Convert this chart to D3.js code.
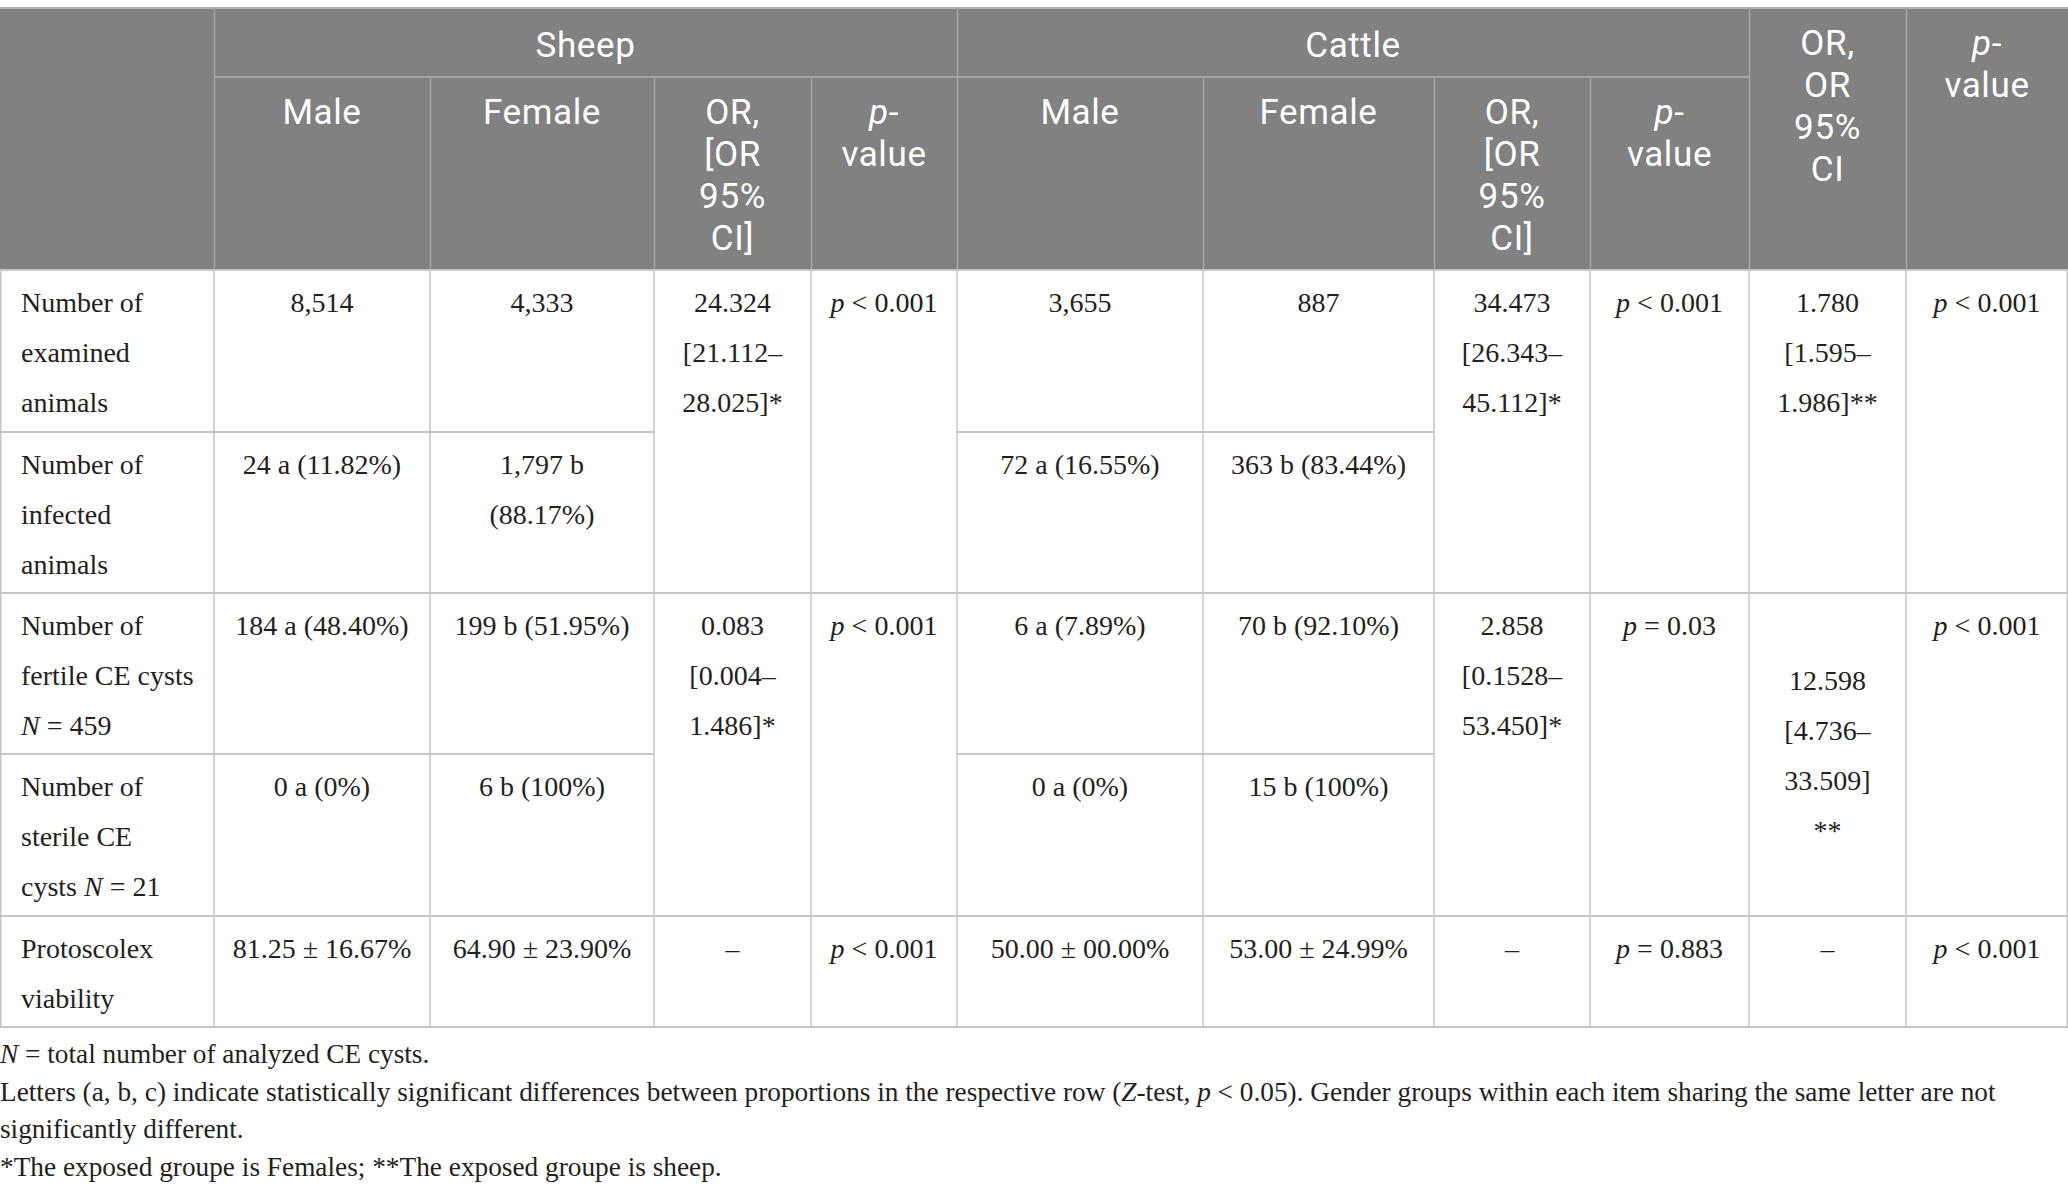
<!DOCTYPE html>
<html>
<head>
<meta charset="utf-8">
<script src="https://cdn.jsdelivr.net/npm/d3@7"></script>
<style>
  body { margin: 0; background: #fff; }
  svg { display: block; }
</style>
</head>
<body>
<div id="table"></div>
<script>
const groupLabels = ['Sheep', 'Cattle'];
const subLabels = ['Male', 'Female', 'OR,\n[OR\n95%\nCI]', 'p-\nvalue'];
const totalLabels = ['OR,\nOR\n95%\nCI', 'p-\nvalue'];

const rowLabels = [
  'Number of\nexamined\nanimals',
  'Number of\ninfected\nanimals',
  'Number of\nfertile CE cysts\nN = 459',
  'Number of\nsterile CE\ncysts N = 21',
  'Protoscolex\nviability'
];
const sheepMale = ['8,514', '24 a (11.82%)', '184 a (48.40%)', '0 a (0%)', '81.25 ± 16.67%'];
const sheepFemale = ['4,333', '1,797 b\n(88.17%)', '199 b (51.95%)', '6 b (100%)', '64.90 ± 23.90%'];
const cattleMale = ['3,655', '72 a (16.55%)', '6 a (7.89%)', '0 a (0%)', '50.00 ± 00.00%'];
const cattleFemale = ['887', '363 b (83.44%)', '70 b (92.10%)', '15 b (100%)', '53.00 ± 24.99%'];

// these ones span row pairs (0-1, 2-3, 4)
const sheepOR = ['24.324\n[21.112–\n28.025]*', '0.083\n[0.004–\n1.486]*', '–'];
const sheepP = ['p < 0.001', 'p < 0.001', 'p < 0.001'];
const cattleOR = ['34.473\n[26.343–\n45.112]*', '2.858\n[0.1528–\n53.450]*', '–'];
const cattleP = ['p < 0.001', 'p = 0.03', 'p = 0.883'];
const totalOR = ['1.780\n[1.595–\n1.986]**', '12.598\n[4.736–\n33.509]\n**', '–'];
const totalP = ['p < 0.001', 'p < 0.001', 'p < 0.001'];

const footnotes = [
  'N = total number of analyzed CE cysts.',
  'Letters (a, b, c) indicate statistically significant differences between proportions in the respective row (Z-test, p < 0.05). Gender groups within each item sharing the same letter are not',
  'significantly different.',
  '*The exposed groupe is Females; **The exposed groupe is sheep.'
];

const table = (() => {
    const W = 2068, H = 1198;
    const cols = ['label', 'sM', 'sF', 'sOR', 'sP', 'cM', 'cF', 'cOR', 'cP', 'tOR', 'tP'];
    const colEdges = [0, 214, 430, 654, 811, 957, 1203, 1434, 1590, 1749, 1906, 2068];
    const rowEdges = [270, 432, 593, 754, 916, 1027];
    const spans = [[0, 2], [2, 4], [4, 5]];
    const headTop = 8, headMid = 77, headBot = 270;
    const lineH = 50, headLineH = 42;

    const x0 = d3.scaleOrdinal().domain(cols).range(colEdges.slice(0, -1));
    const x1 = d3.scaleOrdinal().domain(cols).range(colEdges.slice(1));
    const xc = c => (x0(c) + x1(c)) / 2;
    const y0 = d3.scaleOrdinal().domain(d3.range(5)).range(rowEdges.slice(0, -1));
    const y1 = d3.scaleOrdinal().domain(d3.range(5)).range(rowEdges.slice(1));

    let svg;

    /**
     * write a (multi line) string, italic for p, N and Z
     */
    const rich = (sel, str, x, y, lh) => {
        str.split('\n').forEach((line, i) => {
            const t = sel.append('tspan').attr('x', x).attr('y', y + i * lh);
            line.split(/(\b[pNZ](?= [<=]|-))/).filter(s => s.length).forEach(part => {
                const s = t.append('tspan').text(part);
                if (/^[pNZ]$/.test(part)) s.attr('font-style', 'italic');
            });
        });
    };

    const drawHeader = () => {
        const g = svg.append('g');
        g.append('rect')
          .attr('x', 0).attr('y', headTop)
          .attr('width', W).attr('height', headBot - headTop)
          .attr('fill', '#808180');
        g.append('line')
          .attr('x1', 0).attr('x2', W)
          .attr('y1', headTop).attr('y2', headTop)
          .attr('stroke', '#b2b2b2').attr('stroke-width', 2);

        const hText = (str, x, y) => {
            const t = g.append('text')
              .attr('text-anchor', 'middle')
              .attr('font-family', 'Roboto, sans-serif')
              .attr('font-size', 35)
              .attr('letter-spacing', 0.6)
              .attr('fill', '#fff');
            rich(t, str, x, y, headLineH);
        };

        const groups = [['sM', 'sP'], ['cM', 'cP']];
        groups.forEach((gr, i) => hText(groupLabels[i], (x0(gr[0]) + x1(gr[1])) / 2, 57));
        [['sM', 'sF', 'sOR', 'sP'], ['cM', 'cF', 'cOR', 'cP']].forEach(keys => {
            keys.forEach((k, i) => hText(subLabels[i], xc(k), 124));
        });
        ['tOR', 'tP'].forEach((k, i) => hText(totalLabels[i], xc(k), 55));

        // header rules
        const rule = '#a4a5a4';
        g.append('line')
          .attr('x1', x0('sM')).attr('x2', x0('tOR'))
          .attr('y1', headMid).attr('y2', headMid)
          .attr('stroke', rule).attr('stroke-width', 2);
        cols.slice(1).forEach(c => {
            const full = ['sM', 'cM', 'tOR', 'tP'].includes(c);
            g.append('line')
              .attr('x1', x0(c) + 0.5).attr('x2', x0(c) + 0.5)
              .attr('y1', full ? headTop : headMid).attr('y2', headBot)
              .attr('stroke', rule).attr('stroke-width', 1.5);
        });
    };

    const drawBody = () => {
        const g = svg.append('g');
        const lineCol = '#c6c6c6';

        // grid: horizontal rules
        rowEdges.forEach((y, i) => {
            const inner = (i === 1 || i === 3);
            const segs = inner ? [['label', 'sF'], ['cM', 'cF']] : [['label', 'tP']];
            segs.forEach(s => {
                g.append('line')
                  .attr('x1', x0(s[0])).attr('x2', x1(s[1]))
                  .attr('y1', y).attr('y2', y)
                  .attr('stroke', lineCol).attr('stroke-width', 2.2);
            });
        });
        // vertical rules
        colEdges.forEach(x => {
            const xx = Math.min(Math.max(x, 0.75), W - 0.75);
            g.append('line')
              .attr('x1', xx).attr('x2', xx)
              .attr('y1', headBot).attr('y2', rowEdges[rowEdges.length - 1])
              .attr('stroke', lineCol).attr('stroke-width', 1.5);
        });

        const cell = (str, x, y, anchor) => {
            const t = g.append('text')
              .attr('text-anchor', anchor)
              .attr('font-family', '"Liberation Serif", "Times New Roman", serif')
              .attr('font-size', 28)
              .attr('fill', '#231f20');
            rich(t, str, x, y, lineH);
        };

        const single = {sM: sheepMale, sF: sheepFemale, cM: cattleMale, cF: cattleFemale};
        rowLabels.forEach((lab, r) => {
            cell(lab, x0('label') + 21, y0(r) + 42, 'start');
            Object.keys(single).forEach(k => cell(single[k][r], xc(k), y0(r) + 42, 'middle'));
        });

        const spanned = {sOR: sheepOR, sP: sheepP, cOR: cattleOR, cP: cattleP, tOR: totalOR, tP: totalP};
        spans.forEach((sp, i) => {
            const top = y0(sp[0]), bot = y1(sp[1] - 1);
            Object.keys(spanned).forEach(k => {
                const str = spanned[k][i];
                let y = top + 42;
                // the combined OR of the cyst rows sits in the middle of its cell
                if (k === 'tOR' && i === 1) {
                    const n = str.split('\n').length;
                    y = (top + bot) / 2 - (n - 1) * lineH / 2 + 10;
                }
                cell(str, xc(k), y, 'middle');
            });
        });
    };

    const drawNotes = () => {
        const t = svg.append('g').selectAll('text')
          .data(footnotes)
          .enter()
          .append('text')
          .attr('font-family', '"Liberation Serif", "Times New Roman", serif')
          .attr('font-size', 27.3)
          .attr('fill', '#231f20');
        t.each(function (d, i) {
            rich(d3.select(this), d, 0, 1063 + i * 37.5, 0);
        });
    };

    const draw = () => {
        svg = d3.select('#table').append('svg')
          .attr('width', W)
          .attr('height', H);
        drawHeader();
        drawBody();
        drawNotes();
    };

    return { draw };
})();

table.draw();
</script>
</body>
</html>
